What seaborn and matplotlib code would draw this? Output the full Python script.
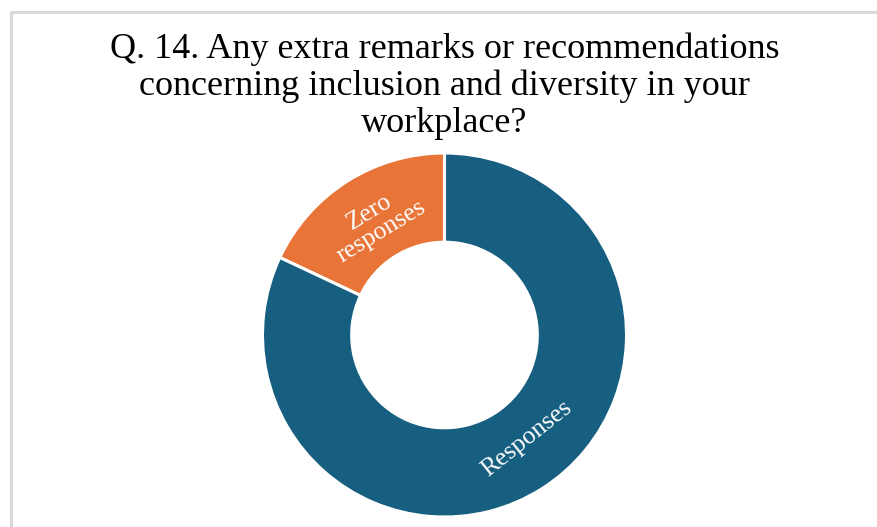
import numpy as np
import matplotlib
matplotlib.use("Agg")
import matplotlib.pyplot as plt
import seaborn as sns

# Survey answers to Q. 14 (share of respondents, %)
categories = ["Zero\nresponses", "Responses"]
shares = [18, 82]
slice_colors = ["#E87437", "#175F80"]
title_text = ("Q. 14. Any extra remarks or recommendations\n"
              "concerning inclusion and diversity in your\n"
              "workplace?")

sns.set_theme(style="white")
plt.rcParams["font.family"] = ["Liberation Serif", "DejaVu Serif"]

W, H = 877, 527
fig = plt.figure(figsize=(W / 100, H / 100), dpi=100)
fig.patch.set_facecolor("white")

# light frame around the chart area
frame_kw = dict(color="#D9D9D9", lw=2.2, transform=fig.transFigure, zorder=0)
fig.add_artist(plt.Line2D([11 / W, 1.0], [1 - 12 / H, 1 - 12 / H], **frame_kw))
fig.add_artist(plt.Line2D([11 / W, 11 / W], [1 - 12 / H, 0.0], **frame_kw))

# donut: center at (444.5, 335) px, outer radius ~182 px
cx, cy, r = 444.5, 335, 182
ax = fig.add_axes([(cx - r) / W, (H - cy - r) / H, 2 * r / W, 2 * r / H])
wedges, _ = ax.pie(
    shares,
    colors=slice_colors,
    startangle=90,
    counterclock=True,
    radius=1.0,
    wedgeprops=dict(width=0.49, edgecolor="white", linewidth=2.2),
)
ax.set_xlim(-1, 1)
ax.set_ylim(-1, 1)
ax.set_aspect("equal")
ax.axis("off")

# labels placed along each ring segment, rotated with the tangent
label_offsets = [-1.0, 6.0]  # degrees shifted along the ring
for w, lab, off in zip(wedges, categories, label_offsets):
    mid = 0.5 * (w.theta1 + w.theta2) + off
    rad = np.deg2rad(mid)
    rr = 0.73
    rot = mid - 90
    if rot > 90:
        rot -= 180
    if rot < -90:
        rot += 180
    ax.text(rr * np.cos(rad), rr * np.sin(rad), lab, ha="center", va="center",
            rotation=rot, rotation_mode="anchor", color="white",
            fontsize=18.5, linespacing=1.05)

fig.text(cx / W, 1 - 33 / H, title_text, ha="center", va="top",
         fontsize=26, color="black", linespacing=1.13)

fig.savefig("out.png", dpi=100, facecolor="white")
